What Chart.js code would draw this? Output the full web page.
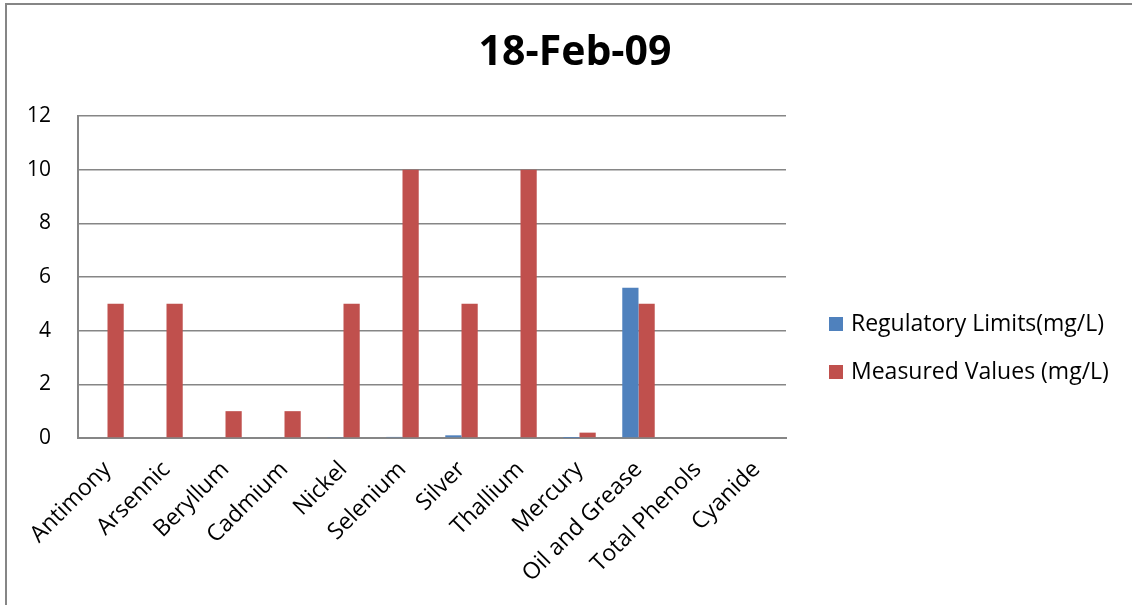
<!DOCTYPE html>
<html>
<head>
<meta charset="utf-8">
<script src="https://cdn.jsdelivr.net/npm/chart.js@4.4.1/dist/chart.umd.min.js"></script>
<style>
  html, body { margin: 0; padding: 0; background: #fff; }
  #wrap { width: 1132px; height: 605px; position: relative; }
</style>
</head>
<body>
<div id="wrap"><canvas id="metalsChart" width="1132" height="605"></canvas></div>
<script>
const chartTitle = '18-Feb-09';
const categories = ['Antimony', 'Arsennic', 'Beryllum', 'Cadmium', 'Nickel', 'Selenium',
    'Silver', 'Thallium', 'Mercury', 'Oil and Grease', 'Total Phenols', 'Cyanide'];
const regulatoryLimits = [0, 0, 0, 0.03, 0.02, 0.04, 0.1, 0, 0.002, 5.6, 0, 0];
const measuredValues = [5, 5, 1, 1, 5, 10, 5, 10, 0.2, 5, 0, 0];
const seriesNames = ['Regulatory Limits(mg/L)', 'Measured Values (mg/L)'];
const yTicks = [0, 2, 4, 6, 8, 10, 12];

let blueColor = '#4f81bd';
let redColor = '#c0504d';
let axisColor = '#868686';
let fontFamily = "'Open Sans', 'Noto Sans', sans-serif";

// frame, title and legend drawn on top of the canvas
const chartDecor = {
    id: 'chartDecor',
    afterDraw(chart) {
        const { ctx, data } = chart;
        ctx.save();
        ctx.strokeStyle = axisColor;
        ctx.lineWidth = 2;
        ctx.beginPath();
        ctx.moveTo(6, 620);
        ctx.lineTo(6, 4);
        ctx.lineTo(1140, 4);
        ctx.stroke();

        ctx.fillStyle = '#000';
        ctx.font = 'bold 41px ' + fontFamily;
        ctx.textAlign = 'center';
        ctx.textBaseline = 'middle';
        ctx.fillText(chartTitle, 575, 53);

        ctx.font = '23px ' + fontFamily;
        ctx.textAlign = 'left';
        data.datasets.forEach((ds, i) => {
            const y = 324 + i * 48;
            ctx.fillStyle = ds.backgroundColor;
            ctx.fillRect(829, y - 7, 14, 14);
            ctx.fillStyle = '#000';
            ctx.fillText(ds.label, 851, y);
        });
        ctx.restore();
    }
};

const config = {
    type: 'bar',
    data: {
        labels: categories,
        datasets: [
            {
                label: seriesNames[0],
                data: regulatoryLimits,
                backgroundColor: blueColor,
                borderWidth: 0,
                barPercentage: 1.0,
                categoryPercentage: 0.55
            },
            {
                label: seriesNames[1],
                data: measuredValues,
                backgroundColor: redColor,
                borderWidth: 0,
                barPercentage: 1.0,
                categoryPercentage: 0.55
            }
        ]
    },
    options: {
        responsive: false,
        animation: false,
        layout: {
            padding: { left: 0, top: 116, right: 346, bottom: 0 }
        },
        plugins: {
            legend: { display: false },
            title: { display: false },
            tooltip: { enabled: false }
        },
        scales: {
            x: {
                grid: { display: false, drawTicks: false },
                border: { color: axisColor, width: 2 },
                ticks: {
                    color: '#000',
                    font: { family: fontFamily, size: 23 },
                    minRotation: 45,
                    maxRotation: 45,
                    autoSkip: false,
                    padding: 18
                },
                afterFit: (scale) => { scale.height = 167; }
            },
            y: {
                min: 0,
                max: 12,
                afterBuildTicks: (scale) => { scale.ticks = yTicks.map(v => ({ value: v })); },
                grid: { color: axisColor, lineWidth: 1.5, drawTicks: false },
                border: { color: axisColor, width: 2 },
                ticks: {
                    color: '#000',
                    font: { family: fontFamily, size: 21 },
                    padding: 27
                },
                afterFit: (scale) => { scale.width = 78; }
            }
        }
    },
    plugins: [chartDecor]
};

new Chart(document.getElementById('metalsChart'), config);
</script>
</body>
</html>
